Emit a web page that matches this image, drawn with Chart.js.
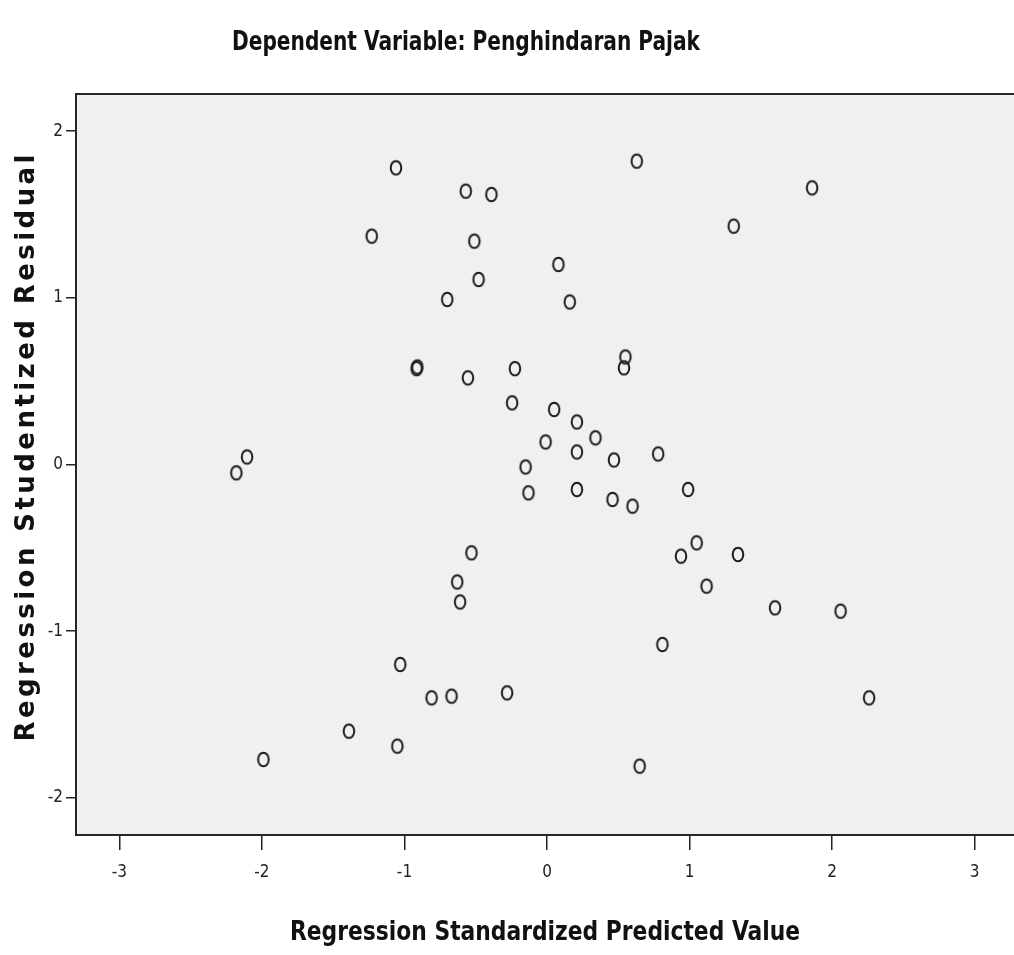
<!DOCTYPE html>
<html><head><meta charset="utf-8">
<script src="https://cdn.jsdelivr.net/npm/chart.js@4/dist/chart.umd.min.js"></script>
<style>
html,body{margin:0;padding:0;overflow:hidden;background:#fff}
#wrap{position:relative;width:1030px;height:955px}
</style>
</head><body><div id="wrap"><canvas id="c" width="1030" height="955"></canvas></div>
<script>
// ---- data ----
const predictedValues = [
  -1.06, -0.57, -0.39, -1.23, -0.51, -0.48, -0.70, 0.63, 1.86, 1.31, 0.08, 0.16,
  -0.91, -0.915, -0.555, -0.225, -0.245, -2.105, -2.18,
  0.55, 0.54, 0.05, 0.21, -0.01, 0.34, 0.21, 0.47, 0.78, -0.15, -0.13, 0.21, 0.46, 0.60, 0.99,
  -0.53, -0.63, -0.61, -1.03, -0.81, -0.67, -0.28, -1.39, -1.05, -1.99,
  0.94, 1.05, 1.34, 1.12, 1.60, 2.06, 0.81, 2.26, 0.65
];
const studentizedResiduals = [
  1.78, 1.64, 1.62, 1.37, 1.34, 1.11, 0.99, 1.82, 1.66, 1.43, 1.20, 0.975,
  0.585, 0.575, 0.52, 0.575, 0.37, 0.045, -0.05,
  0.645, 0.58, 0.33, 0.255, 0.135, 0.16, 0.075, 0.027, 0.063, -0.015, -0.17, -0.15, -0.21, -0.25, -0.15,
  -0.53, -0.705, -0.825, -1.20, -1.40, -1.39, -1.37, -1.60, -1.69, -1.77,
  -0.55, -0.47, -0.54, -0.73, -0.86, -0.88, -1.08, -1.40, -1.81
];
const xTickValues = [-3, -2, -1, 0, 1, 2, 3];
const yTickValues = [-2, -1, 0, 1, 2];
const chartTitle = 'Dependent Variable: Penghindaran Pajak';
const xAxisTitle = 'Regression Standardized Predicted Value';
const yAxisTitle = 'Regression Studentized Residual';

const points = predictedValues.map((x, i) => ({ x: x, y: studentizedResiduals[i] }));

// elliptical open marker
const marker = document.createElement('canvas');
marker.width = 16; marker.height = 19;
(function () {
  const m = marker.getContext('2d');
  m.strokeStyle = '#1c1c1c';
  m.lineWidth = 2;
  m.beginPath();
  m.ellipse(8, 9.5, 5.3, 6.8, 0, 0, Math.PI * 2);
  m.stroke();
})();

const NARROW = '"Liberation Sans Narrow", "DejaVu Sans Condensed", "Arial Narrow", sans-serif';
const AREA = { left: 76, top: 94, right: 1018, bottom: 835 };

function fitText(ctx, text, cx, baseline, targetWidth) {
  const w = ctx.measureText(text).width;
  const sx = targetWidth / w;
  ctx.save();
  ctx.translate(cx, baseline);
  ctx.scale(sx, 1);
  ctx.fillText(text, 0, 0);
  ctx.restore();
}

const decor = {
  id: 'decor',
  beforeDraw(chart) {
    const ctx = chart.ctx, a = chart.chartArea;
    ctx.save();
    ctx.fillStyle = '#ffffff';
    ctx.fillRect(0, 0, chart.width, chart.height);
    ctx.fillStyle = '#f0f0f0';
    ctx.fillRect(a.left, a.top, a.right - a.left, a.bottom - a.top);
    ctx.restore();
  },
  afterDraw(chart) {
    const ctx = chart.ctx, a = chart.chartArea;
    ctx.save();
    ctx.strokeStyle = '#262626';
    ctx.lineWidth = 2;
    ctx.strokeRect(a.left, a.top, a.right - a.left, a.bottom - a.top);

    ctx.fillStyle = '#111';
    ctx.textAlign = 'center';
    ctx.textBaseline = 'alphabetic';
    ctx.font = 'bold 26px ' + NARROW;
    fitText(ctx, chartTitle, 466, 50, 468);

    ctx.font = 'bold 26px ' + NARROW;
    fitText(ctx, xAxisTitle, 545, 940, 510);

    ctx.font = 'bold 26px "DejaVu Sans", Verdana, sans-serif';
    const base = ctx.measureText(yAxisTitle).width;
    const target = 587;
    const ls = Math.max(0, (target - base) / (yAxisTitle.length - 1));
    ctx.translate(34, 448);
    ctx.rotate(-Math.PI / 2);
    try { ctx.letterSpacing = ls.toFixed(2) + 'px'; } catch (e) {}
    ctx.fillText(yAxisTitle, ls / 2, 0);
    ctx.restore();
  }
};

new Chart(document.getElementById('c'), {
  type: 'scatter',
  data: {
    datasets: [{
      data: points,
      pointStyle: marker,
      pointRadius: 7,
      pointHoverRadius: 7,
      borderColor: '#1c1c1c',
      backgroundColor: 'transparent'
    }]
  },
  options: {
    responsive: false,
    animation: false,
    devicePixelRatio: 1,
    layout: { padding: { top: AREA.top, right: 1030 - AREA.right, left: 0, bottom: 0 } },
    plugins: { legend: { display: false }, tooltip: { enabled: false }, title: { display: false } },
    scales: {
      x: {
        type: 'linear',
        min: -3.305, max: 3.305,
        afterFit(s) { s.height = 955 - AREA.bottom; },
        afterBuildTicks(s) { s.ticks = xTickValues.map(v => ({ value: v })); },
        border: { display: false },
        grid: { drawOnChartArea: false, drawTicks: true, tickLength: 15, tickColor: '#222', lineWidth: 1.5 },
        ticks: { color: '#222', padding: 12, maxRotation: 0, font: { family: NARROW, size: 17 } }
      },
      y: {
        type: 'linear',
        min: -2.223, max: 2.223,
        afterFit(s) { s.width = AREA.left; },
        afterBuildTicks(s) { s.ticks = yTickValues.map(v => ({ value: v })); },
        border: { display: false },
        grid: { drawOnChartArea: false, drawTicks: true, tickLength: 10, tickColor: '#222', lineWidth: 1.5 },
        ticks: { color: '#222', padding: 3, font: { family: NARROW, size: 17 } }
      }
    }
  },
  plugins: [decor]
});
</script>
</body></html>
